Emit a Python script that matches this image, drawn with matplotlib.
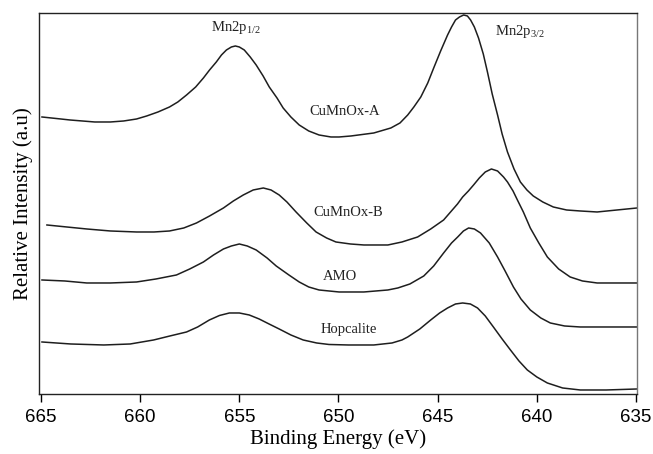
import numpy as np
import matplotlib
matplotlib.use('Agg')
import matplotlib.pyplot as plt

########################################################################
# Mn2p XPS spectra (arbitrary intensity)

be_A = [664.95, 664.0, 663.54, 662.29, 661.5, 660.83, 660.18, 659.67, 659.1,
        658.52, 658.1, 657.66, 657.2, 656.81, 656.5, 656.16, 655.9, 655.65,
        655.4, 655.2, 655.0, 654.75, 654.45, 654.15, 653.8, 653.49, 653.1,
        652.79, 652.4, 651.98, 651.5, 650.98, 650.38, 649.97, 649.37, 648.22,
        647.36, 646.9, 646.51, 646.2, 645.85, 645.5, 645.2, 644.85, 644.5,
        644.3, 644.1, 643.9, 643.69, 643.5, 643.34, 643.15, 642.94, 642.7,
        642.49, 642.25, 641.98, 641.75, 641.48, 641.15, 640.83, 640.5, 640.18,
        639.7, 639.17, 638.5, 637.81, 636.96, 636.46, 634.95]
I_A = [277, 275, 274, 272, 272, 273, 275, 278, 282,
       287, 292, 299, 307, 316, 324, 332, 339, 344,
       347, 348, 347, 344, 337, 329, 318, 307, 296,
       286, 277, 269, 263, 259, 257, 257, 258, 261,
       266, 271, 279, 287, 297, 311, 326, 343, 359,
       367, 374, 377, 379, 378, 374, 367, 356, 340,
       322, 300, 279, 260, 242, 225, 212, 204, 198,
       192, 187, 184, 183, 182, 183, 186]

be_B = [664.7, 663.7, 662.69, 661.5, 660.18, 659.3, 658.52, 657.8, 657.16,
        656.5, 655.8, 655.3, 654.8, 654.3, 653.79, 653.4, 652.99, 652.6,
        652.14, 651.6, 651.13, 650.6, 650.13, 649.4, 648.72, 647.51, 646.8,
        646.01, 645.35, 644.7, 644.35, 644.0, 643.74, 643.45, 643.19, 642.9,
        642.6, 642.29, 641.98, 641.68, 641.48, 641.2, 640.98, 640.68, 640.33,
        639.9, 639.47, 638.9, 638.32, 637.7, 636.96, 634.95]
I_B = [169, 167, 165, 163, 162, 162, 163, 166, 171,
       178, 186, 193, 199, 204, 206, 204, 199, 192,
       182, 171, 162, 156, 152, 150, 149, 149, 152,
       157, 165, 174, 182, 190, 197, 203, 209, 216,
       222, 225, 223, 217, 212, 203, 194, 182, 166,
       151, 137, 125, 117, 113, 111, 111]

be_AMO = [664.95, 663.8, 662.69, 661.5, 660.18, 659.2, 658.17, 657.5, 656.81,
          656.3, 655.8, 655.4, 655.0, 654.6, 654.15, 653.6, 653.14, 652.5,
          651.98, 651.5, 650.98, 649.97, 648.72, 647.51, 647.01, 646.4, 645.7,
          645.2, 644.7, 644.3, 643.99, 643.7, 643.44, 643.15, 642.84, 642.4,
          641.98, 641.6, 641.18, 640.8, 640.33, 639.8, 639.32, 638.6, 637.81,
          634.95]
I_AMO = [114, 113, 111, 111, 112, 115, 119, 125, 132,
         139, 145, 148, 150, 148, 144, 136, 128, 119,
         112, 107, 104, 102, 102, 104, 106, 110, 118,
         128, 141, 151, 157, 163, 166, 165, 161, 151,
         137, 123, 107, 95, 84, 76, 71, 68, 67,
         67]

be_H = [664.95, 663.5, 661.83, 660.5, 659.32, 658.5, 657.66, 657.1, 656.51,
        656.0, 655.5, 655.0, 654.5, 654.0, 653.5, 652.99, 652.4, 651.78,
        651.1, 650.48, 649.5, 648.22, 647.3, 646.8, 646.51, 645.9, 645.35,
        644.9, 644.5, 644.1, 643.74, 643.35, 642.99, 642.6, 642.19, 641.75,
        641.33, 640.9, 640.48, 640.0, 639.47, 638.7, 637.81, 636.5, 634.95]
I_H = [52, 50, 49, 50, 54, 58, 62, 67, 74,
       78.5, 81, 81, 79, 75, 70, 65, 59, 54,
       51, 49.5, 49, 49, 51, 54, 57, 65, 74,
       81, 86, 90, 91, 90, 86, 78, 67, 55,
       44, 33, 24, 17, 11, 6, 4, 4, 5]

sample_names = ['CuMnOx-A', 'CuMnOx-B', 'AMO', 'Hopcalite']
name_pos = [(649.7, 282), (649.5, 181), (649.9, 117), (649.5, 64)]
peak_names = ['Mn2p$_{1/2}$', 'Mn2p$_{3/2}$']
peak_pos = [(655.2, 366), (642.1, 362)]

########################################################################

serif = ['Liberation Serif', 'DejaVu Serif']
sans = ['Liberation Sans', 'DejaVu Sans']
plt.rcParams['mathtext.fontset'] = 'custom'
plt.rcParams['mathtext.rm'] = 'Liberation Serif'
plt.rcParams['mathtext.it'] = 'Liberation Serif'

fig = plt.figure(figsize=(6.53, 4.54), dpi=100)
ax = fig.add_axes([0.0597, 0.1322, 0.9158, 0.8392])

line_kw = dict(color='#1e1e1e', lw=1.1, solid_joinstyle='round')
ax.plot(be_A, I_A, **line_kw)
ax.plot(be_B, I_B, **line_kw)
ax.plot(be_AMO, I_AMO, **line_kw)
ax.plot(be_H, I_H, **line_kw)

for name, (xx, yy) in zip(sample_names, name_pos):
    ax.text(xx, yy, name, ha='center', va='center', fontsize=10.5,
            family=serif, color='#222222')

ax.text(peak_pos[0][0], peak_pos[0][1], peak_names[0], ha='center', va='center',
        fontsize=10.5, family=serif, color='#222222')
ax.text(peak_pos[1][0], peak_pos[1][1], peak_names[1], ha='left', va='center',
        fontsize=10.5, family=serif, color='#222222')

ax.set_xlim(665.1, 634.95)
ax.set_ylim(0, 381)
ax.set_xticks([665, 660, 655, 650, 645, 640, 635])
ax.set_yticks([])
ax.tick_params(axis='x', direction='out', length=6, width=1, labelsize=13.5,
               pad=5, top=False)
for lab in ax.get_xticklabels():
    lab.set_family(sans)
for sp in ax.spines.values():
    sp.set_linewidth(1.0)
    sp.set_color('#222222')
ax.spines['right'].set_color('#777777')

ax.set_xlabel('Binding Energy (eV)', fontsize=15, family=serif, labelpad=2)
ax.set_ylabel('Relative Intensity (a.u)', fontsize=15, family=serif, labelpad=4)

fig.savefig('out.png', dpi=100)
